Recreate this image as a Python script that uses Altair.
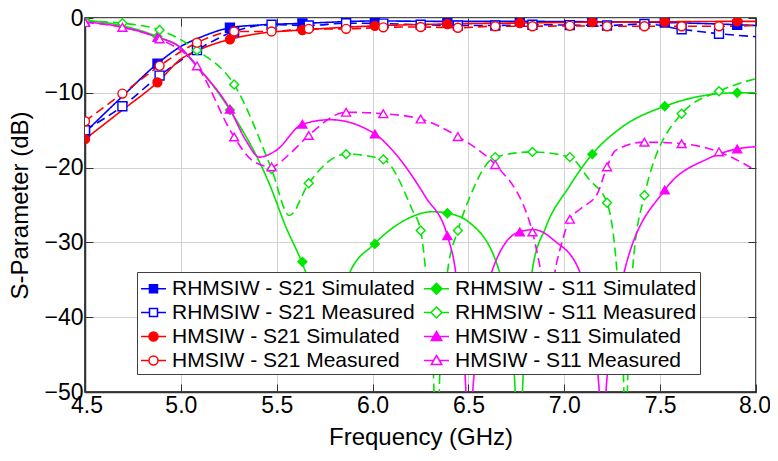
import altair as alt
import pandas as pd

FONT = "Liberation Sans"

# ---------------- data ----------------
sim_mk_f = [4.5, 4.878, 5.256, 5.634, 6.012, 6.39, 6.768, 7.146, 7.524, 7.902]
meas_f = [4.5, 4.695, 4.889, 5.084, 5.278, 5.473, 5.667, 5.862, 6.056, 6.251,
          6.445, 6.64, 6.834, 7.029, 7.223, 7.418, 7.612, 7.807]

# RHMSIW - S21 Simulated (blue solid)
rs21s_f = [4.5, 4.69, 4.878, 5.0, 5.1, 5.256, 5.4, 5.634, 6.012, 6.39, 6.768, 7.146, 7.524, 7.902, 8.0]
rs21s_db = [-15.3, -10.6, -6.1, -3.8, -2.6, -1.3, -0.95, -0.72, -0.4, -0.45, -0.45, -0.5, -0.6, -0.9, -1.0]
rs21s_mk = [-15.3, -6.1, -1.3, -0.72, -0.4, -0.45, -0.45, -0.5, -0.6, -0.9]

# HMSIW - S21 Simulated (red solid)
hs21s_f = [4.5, 4.69, 4.878, 5.0, 5.1, 5.256, 5.4, 5.634, 6.012, 6.39, 6.768, 7.146, 7.524, 7.902, 8.0]
hs21s_db = [-16.2, -12.4, -8.6, -5.5, -4.2, -2.85, -2.1, -1.6, -1.05, -0.8, -0.67, -0.55, -0.5, -0.45, -0.45]
hs21s_mk = [-16.2, -8.6, -2.85, -1.6, -1.05, -0.8, -0.67, -0.55, -0.5, -0.45]

# RHMSIW - S21 Measured (blue dashed)
rs21m_f = meas_f + [8.0]
rs21m_db = [-15.0, -11.8, -7.7, -4.3, -1.8, -0.9, -1.0, -0.7, -0.75, -0.9, -1.0, -1.0,
            -0.9, -0.95, -1.0, -0.8, -1.5, -2.1, -2.5]
rs21m_mk = rs21m_db[:-1]

# HMSIW - S21 Measured (red dashed)
hs21m_f = meas_f + [8.0]
hs21m_db = [-13.8, -10.1, -6.4, -3.3, -1.8, -1.8, -1.45, -1.45, -1.25, -1.2, -1.3, -1.1,
            -1.1, -1.05, -1.1, -1.1, -1.1, -1.1, -1.0]
hs21m_mk = hs21m_db[:-1]

# RHMSIW - S11 Simulated (green solid)
rs11s_f = [4.5, 4.69, 4.878, 5.0, 5.071, 5.256, 5.462, 5.549, 5.627, 5.653, 5.765, 5.878, 6.005,
           6.15, 6.313, 6.39, 6.503, 6.659, 6.74, 6.763, 6.785, 6.833, 6.903, 7.024, 7.146, 7.3,
           7.524, 7.7, 7.902, 8.0]
rs11s_db = [-0.3, -1.0, -2.5, -4.0, -6.0, -12.3, -22.2, -28.0, -32.4, -34.1, -44.0, -34.2, -30.3,
            -27.3, -25.9, -26.1, -27.3, -33.7, -48.0, -62.0, -48.0, -33.7, -28.0, -22.6, -18.2, -14.6,
            -11.8, -10.5, -10.0, -10.0]
rs11s_mk_f = [4.5, 4.878, 5.256, 5.634, 6.012, 6.39, 7.146, 7.524, 7.902]
rs11s_mk = [-0.3, -2.5, -12.3, -32.6, -30.2, -26.1, -18.2, -11.8, -10.0]

# HMSIW - S11 Simulated (magenta solid)
hs11s_f = [4.5, 4.69, 4.878, 5.0, 5.071, 5.256, 5.34, 5.41, 5.497, 5.634, 5.78, 6.012, 6.104,
           6.278, 6.39, 6.434, 6.485, 6.505, 6.525, 6.625, 6.764, 6.842, 6.95, 7.077, 7.18, 7.2,
           7.22, 7.31, 7.524, 7.75, 7.902, 8.0]
hs11s_db = [-0.5, -1.2, -2.6, -4.0, -6.1, -12.2, -16.4, -18.6, -17.7, -14.2, -13.6, -15.5, -17.7,
            -24.0, -29.1, -34.1, -49.0, -62.0, -49.0, -33.7, -28.6, -28.3, -29.8, -33.7, -49.0, -62.0,
            -49.0, -34.2, -23.0, -18.8, -17.5, -17.2]
hs11s_mk_f = [4.5, 4.878, 5.256, 5.634, 6.012, 6.39, 6.768, 7.524, 7.902]
hs11s_mk = [-0.5, -2.6, -12.2, -14.2, -15.5, -29.1, -28.6, -23.0, -17.5]

# RHMSIW - S11 Measured (green dashed)
rs11m_f = [4.5, 4.695, 4.889, 5.084, 5.278, 5.473, 5.566, 5.667, 5.862, 6.056, 6.208, 6.251,
           6.278, 6.318, 6.334, 6.35, 6.39, 6.445, 6.5, 6.64, 6.834, 7.029, 7.13, 7.223, 7.275,
           7.31, 7.32, 7.33, 7.355, 7.418, 7.612, 7.807, 8.0]
rs11m_db = [-0.4, -0.7, -1.6, -4.3, -8.9, -20.2, -26.4, -22.1, -18.2, -18.9, -25.7, -28.4,
            -34.1, -48.0, -62.0, -48.0, -34.1, -28.4, -24.4, -18.6, -17.9, -18.6, -21.6, -24.7, -34.0,
            -49.0, -62.0, -49.0, -34.0, -23.7, -12.8, -9.8, -8.1]
rs11m_mk = [-0.4, -0.7, -1.6, -4.3, -8.9, -20.2, -22.1, -18.2, -18.9, -28.4, -28.4, -18.6,
            -17.9, -18.6, -24.7, -23.7, -12.8, -9.8]

# HMSIW - S11 Measured (magenta dashed)
hs11m_f = [4.5, 4.695, 4.889, 5.084, 5.278, 5.37, 5.473, 5.566, 5.667, 5.862, 6.056, 6.251,
           6.445, 6.55, 6.64, 6.834, 6.877, 6.915, 6.963, 7.029, 7.085, 7.172, 7.223, 7.268,
           7.418, 7.612, 7.807, 8.0]
hs11m_db = [-0.6, -1.25, -2.8, -6.4, -15.9, -19.0, -19.9, -18.2, -15.7, -12.6, -12.8, -13.5,
            -15.85, -17.6, -19.6, -28.6, -33.7, -38.0, -32.4, -26.9, -25.5, -23.5, -19.9, -17.7,
            -16.6, -16.8, -17.9, -20.4]
hs11m_mk = [-0.6, -1.25, -2.8, -6.4, -15.9, -19.9, -15.7, -12.6, -12.8, -13.5, -15.85, -19.6,
            -28.6, -26.9, -19.9, -16.6, -16.8, -17.9]

x_ticks = [4.5, 5.0, 5.5, 6.0, 6.5, 7.0, 7.5, 8.0]
y_ticks = [-50, -40, -30, -20, -10, 0]

# ---------------- series definitions (legend fills column by column) ----------------
BLUE, GREEN, RED, MAG = "#0000FF", "#00E600", "#FF0000", "#FF00FF"
circ = "M-0.36,0A0.36,0.36 0 1,0 0.36,0A0.36,0.36 0 1,0 -0.36,0Z"
# name, colour, fill, marker, dash, legend symbol (line + marker in unit box)
series_defs = [
    ("RHMSIW - S21 Simulated", BLUE, BLUE, "square", [1, 0],
     "M-1,0H1M-0.32,-0.32H0.32V0.32H-0.32Z"),
    ("RHMSIW - S21 Measured", BLUE, "white", "square", [9, 5],
     "M-1,0H-0.32M0.32,0H1M-0.32,-0.32H0.32V0.32H-0.32Z"),
    ("HMSIW - S21 Simulated", RED, RED, "circle", [1, 0], "M-1,0H1" + circ),
    ("HMSIW - S21 Measured", RED, "white", "circle", [9, 5], "M-1,0H-0.36M0.36,0H1" + circ),
    ("RHMSIW - S11 Simulated", GREEN, GREEN, "diamond", [1, 0],
     "M-1,0H1M0,-0.44L0.44,0L0,0.44L-0.44,0Z"),
    ("RHMSIW - S11 Measured", GREEN, "white", "diamond", [9, 5],
     "M-1,0H-0.44M0.44,0H1M0,-0.44L0.44,0L0,0.44L-0.44,0Z"),
    ("HMSIW - S11 Simulated", MAG, MAG, "triangle-up", [1, 0],
     "M-1,0H1M0,-0.4L0.42,0.32L-0.42,0.32Z"),
    ("HMSIW - S11 Measured", MAG, "white", "triangle-up", [9, 5],
     "M-1,0H-0.23M0.23,0H1M0,-0.4L0.42,0.32L-0.42,0.32Z"),
]
names = [s[0] for s in series_defs]
colors = [s[1] for s in series_defs]
fills = [s[2] for s in series_defs]
shapes = [s[3] for s in series_defs]
dashes = [s[4] for s in series_defs]
leg_paths = [s[5] for s in series_defs]

line_sets = [
    ("RHMSIW - S21 Simulated", rs21s_f, rs21s_db), ("RHMSIW - S11 Simulated", rs11s_f, rs11s_db),
    ("RHMSIW - S21 Measured", rs21m_f, rs21m_db), ("RHMSIW - S11 Measured", rs11m_f, rs11m_db),
    ("HMSIW - S21 Simulated", hs21s_f, hs21s_db), ("HMSIW - S11 Simulated", hs11s_f, hs11s_db),
    ("HMSIW - S21 Measured", hs21m_f, hs21m_db), ("HMSIW - S11 Measured", hs11m_f, hs11m_db),
]
mark_sets = [
    ("RHMSIW - S21 Simulated", sim_mk_f, rs21s_mk), ("RHMSIW - S11 Simulated", rs11s_mk_f, rs11s_mk),
    ("RHMSIW - S21 Measured", meas_f, rs21m_mk), ("RHMSIW - S11 Measured", meas_f, rs11m_mk),
    ("HMSIW - S21 Simulated", sim_mk_f, hs21s_mk), ("HMSIW - S11 Simulated", hs11s_mk_f, hs11s_mk),
    ("HMSIW - S21 Measured", meas_f, hs21m_mk), ("HMSIW - S11 Measured", meas_f, hs11m_mk),
]

line_df = pd.concat([pd.DataFrame({"f": f, "db": d, "series": n}) for n, f, d in line_sets],
                    ignore_index=True)
mark_df = pd.concat([pd.DataFrame({"f": f, "db": d, "series": n}) for n, f, d in mark_sets],
                    ignore_index=True)

xscale = alt.Scale(domain=[4.5, 8.0], nice=False, zero=False)
yscale = alt.Scale(domain=[-50, 0], nice=False)

TICK = 8
IN_TICK = {"expr": f"-{TICK}"}

legend = alt.Legend(
    title=None, orient="none", legendX=52, legendY=254, columns=2,
    symbolSize=625, symbolStrokeWidth=1.5, labelFontSize=21, labelFont=FONT,
    labelColor="black", labelLimit=500, labelOffset=5, rowPadding=0, columnPadding=6,
    padding=3, fillColor="white", strokeColor="#404040",
)

lines = alt.Chart(line_df).mark_line(interpolate="monotone", strokeWidth=1.6, clip=True).encode(
    x=alt.X("f:Q", scale=xscale, axis=alt.Axis(
        title="Frequency (GHz)", values=x_ticks, format=".1f", grid=True, gridColor="#d2d2d2",
        tickSize=IN_TICK, labelPadding=TICK + 2, labelFlush=True, labelFlushOffset=14.5,
        titlePadding=8, domainColor="#333", domainWidth=1.5, tickColor="#333")),
    y=alt.Y("db:Q", scale=yscale, axis=alt.Axis(
        title="S-Parameter (dB)", values=y_ticks, format="d", grid=True, gridColor="#d2d2d2",
        tickSize=IN_TICK, labelPadding=TICK + 2, labelFlush=False, titlePadding=11,
        domainColor="#333", domainWidth=1.5, tickColor="#333")),
    color=alt.Color("series:N", scale=alt.Scale(domain=names, range=colors), legend=None),
    strokeDash=alt.StrokeDash("series:N", scale=alt.Scale(domain=names, range=dashes), legend=None),
)

points = alt.Chart(mark_df).mark_point(size=80, strokeWidth=1.4, opacity=1, clip=True).encode(
    x=alt.X("f:Q", scale=xscale, axis=alt.Axis(
        orient="top", title=None, labels=False, grid=False, domain=False, values=x_ticks,
        tickSize=IN_TICK, tickColor="#333")),
    y=alt.Y("db:Q", scale=yscale, axis=alt.Axis(
        orient="right", title=None, labels=False, grid=False, domain=False, values=y_ticks,
        tickSize=IN_TICK, tickColor="#333")),
    stroke=alt.Stroke("series:N", scale=alt.Scale(domain=names, range=colors), legend=None),
    fill=alt.Fill("series:N", scale=alt.Scale(domain=names, range=fills), legend=None),
    shape=alt.Shape("series:N", scale=alt.Scale(domain=names, range=shapes), legend=None),
)

# legend-only layer: no data rows survive the filter, its scales carry the legend
legend_layer = alt.Chart(mark_df).transform_filter("datum.f < 0").mark_point(
    opacity=1, strokeWidth=1.5).encode(
    x=alt.X("f:Q", scale=xscale, axis=None),
    y=alt.Y("db:Q", scale=yscale, axis=None),
    stroke=alt.Stroke("series:N", scale=alt.Scale(domain=names, range=colors), legend=legend),
    fill=alt.Fill("series:N", scale=alt.Scale(domain=names, range=fills), legend=legend),
    shape=alt.Shape("series:N", scale=alt.Scale(domain=names, range=leg_paths), legend=legend),
)

chart = alt.layer(lines, points, legend_layer).resolve_axis(
    x="independent", y="independent"
).resolve_scale(
    shape="independent", fill="independent", stroke="independent"
).properties(
    width=671, height=374,
    autosize=alt.AutoSizeParams(type="none"),
    padding={"left": 77, "top": 10, "right": 14, "bottom": 61},
).configure_view(stroke="#111", strokeWidth=1.5).configure_axis(
    labelFont=FONT, titleFont=FONT, labelFontSize=23, titleFontSize=24,
    labelColor="black", titleColor="black", titleFontWeight="normal",
)

chart.save("out.html", embed_options={"renderer": "svg", "actions": False})
